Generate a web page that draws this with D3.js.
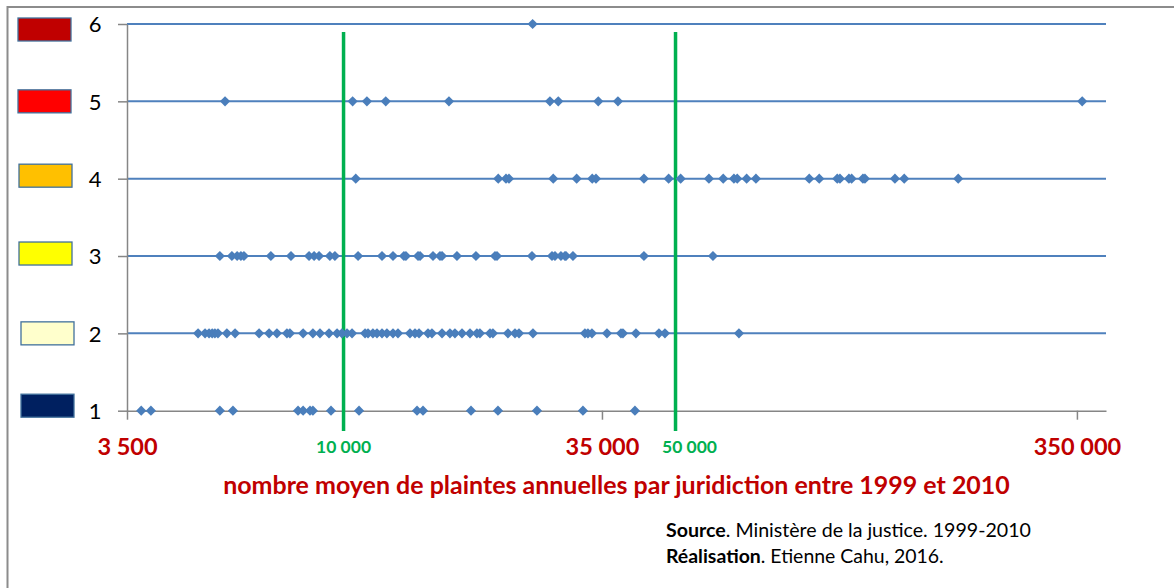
<!DOCTYPE html>
<html lang="fr">
<head>
<meta charset="utf-8">
<title>Plaintes annuelles par juridiction</title>
<script src="https://cdn.jsdelivr.net/npm/d3@7/dist/d3.min.js"></script>
<style>
  html, body { margin: 0; padding: 0; background: #fff; }
  svg { display: block; font-family: Lato, "Open Sans", sans-serif; }
</style>
</head>
<body>
<svg id="chart" width="1174" height="588"></svg>
<script>
// Classes (1 to 6) and their legend colours
const levels = [1, 2, 3, 4, 5, 6];
const levelColors = ["#002060", "#FFFFCC", "#FFFF00", "#FFC000", "#FF0000", "#C00000"];

// Mean number of complaints per year for each jurisdiction, grouped by class
const complaintsLevel1 = [3750, 3930, 5490, 5850, 8020, 8220, 8500, 8620, 9410, 10780,
  14280, 14700, 18550, 21140, 25540, 31920, 41070];
const complaintsLevel2 = [4940, 5110, 5210, 5290, 5360, 5440, 5680, 5910, 6640, 6970,
  7240, 7600, 7710, 8220, 8620, 8920, 9320, 9690, 9920, 10170, 10420, 11100, 11260,
  11530, 11760, 12050, 12340, 12710, 13020, 13800, 14140, 14420, 15060, 15350, 16120,
  16750, 17160, 17760, 18460, 19090, 19370, 20340, 20630, 22190, 22960, 23410, 25050,
  32230, 32700, 33340, 35860, 38380, 38750, 41270, 46140, 47500, 68000];
const complaintsLevel3 = [5490, 5820, 5970, 6080, 6170, 7030, 7750, 8460, 8670, 8880,
  9360, 9590, 10730, 12050, 12710, 13400, 13530, 14350, 14490, 15430, 15960, 16120,
  17330, 19000, 20840, 21040, 24930, 27470, 27870, 28690, 29250, 29400, 30410, 42900,
  59950];
const complaintsLevel4 = [10610, 21170, 21980, 22300, 27640, 30960, 33390, 34000, 42900,
  48360, 51260, 58790, 63010, 66370, 67440, 70580, 73840, 95610, 100360, 109510, 110950,
  115900, 117420, 124040, 125240, 144850, 151530, 196870];
const complaintsLevel5 = [5630, 10450, 11200, 12270, 16670, 27200, 28320, 34380, 37820,
  359100];
const complaintsLevel6 = [25010];

// Axis ticks and thresholds
const xTickValues = [3500, 35000, 350000];
const thresholds = [10000, 50000];
const xDomain = [3500, 403000];

const titleText = "nombre moyen de plaintes annuelles par juridiction entre 1999 et 2010";

// ---- layout ----
const svg = d3.select("#chart");
const fontFamily = 'Lato, "Open Sans", sans-serif';
const plot = { left: 127, right: 1106, top: 24, bottom: 410.7 };
const axisGray = "#868686";
const lineBlue = "#4F81BD";
const red = "#C00000";
const green = "#00B050";

const x = d3.scaleLog().domain(xDomain).range([plot.left, plot.right]);
const y = d3.scaleLinear().domain([1, 6]).range([plot.bottom, plot.top]);

const spaced = d3.formatLocale({ decimal: ",", thousands: "\u00a0", grouping: [3], currency: ["", " €"] }).format(",d");

// outer frame (top and left edges)
svg.append("path")
  .attr("d", "M7.5,588 V7 H1174")
  .attr("fill", "none")
  .attr("stroke", "#8C8C8C")
  .attr("stroke-width", 2);

// horizontal class lines
svg.append("g")
  .selectAll("line")
  .data(levels.filter(d => d > 1))
  .join("line")
  .attr("x1", plot.left).attr("x2", plot.right)
  .attr("y1", d => y(d)).attr("y2", d => y(d))
  .attr("stroke", lineBlue)
  .attr("stroke-width", 2);

// y axis
const yAxis = svg.append("g")
  .attr("transform", `translate(${plot.left},0)`)
  .call(d3.axisLeft(y).tickValues(levels).tickSize(9).tickSizeOuter(0).tickPadding(17).tickFormat(d3.format("d")))
  .attr("font-family", fontFamily);
yAxis.select(".domain").attr("stroke", axisGray).attr("stroke-width", 1.5);
yAxis.selectAll(".tick line").attr("stroke", axisGray).attr("stroke-width", 1.5);
yAxis.selectAll(".tick text")
  .attr("fill", "#000")
  .attr("font-size", 22)
  .attr("text-anchor", "middle")
  .attr("x", -32)
  .attr("dy", "0.36em");

// x axis (log scale)
const xAxis = svg.append("g")
  .attr("transform", `translate(0,${y(1)})`)
  .call(d3.axisBottom(x).tickValues(xTickValues).tickSize(9).tickSizeOuter(0).tickFormat(spaced))
  .attr("font-family", fontFamily);
xAxis.select(".domain").attr("stroke", axisGray).attr("stroke-width", 1.5);
xAxis.selectAll(".tick line").attr("stroke", axisGray).attr("stroke-width", 1.5);
xAxis.selectAll(".tick text")
  .attr("fill", red)
  .attr("font-size", 23.5)
  .attr("font-weight", "bold")
  .attr("y", 44)
  .attr("dy", 0);

// legend swatches, one per class
const legendNudge = [-5, 0, -2.5, -3, 0, 5.5];
const legendLeft = [21, 21, 19, 19, 18, 18];
svg.append("g")
  .selectAll("rect")
  .data(levels)
  .join("rect")
  .attr("x", (d, i) => legendLeft[i])
  .attr("y", (d, i) => y(d) - 11.5 + legendNudge[i])
  .attr("width", 53)
  .attr("height", 23)
  .attr("fill", (d, i) => levelColors[i])
  .attr("stroke", "#41719C")
  .attr("stroke-width", 1.3);

// threshold lines
svg.append("g")
  .selectAll("line")
  .data(thresholds)
  .join("line")
  .attr("x1", d => x(d)).attr("x2", d => x(d))
  .attr("y1", 32).attr("y2", 431)
  .attr("stroke", green)
  .attr("stroke-width", 3.5);

const thresholdLabelShift = [0, 14];
svg.append("g")
  .selectAll("text")
  .data(thresholds)
  .join("text")
  .attr("x", (d, i) => x(d) + thresholdLabelShift[i])
  .attr("y", 453)
  .attr("text-anchor", "middle")
  .attr("font-size", 17.5)
  .attr("font-weight", "bold")
  .attr("fill", green)
  .text(d => spaced(d));

// markers
const series = [complaintsLevel1, complaintsLevel2, complaintsLevel3,
  complaintsLevel4, complaintsLevel5, complaintsLevel6];
const points = series.flatMap((vals, i) => vals.map(v => ({ level: levels[i], value: v })));
const diamond = d3.symbol().type(d3.symbolSquare).size(52);
svg.append("g")
  .selectAll("path")
  .data(points)
  .join("path")
  .attr("d", diamond)
  .attr("transform", d => `translate(${x(d.value)},${y(d.level)}) rotate(45)`)
  .attr("fill", "#4A7EBB");

// fit a text element to a target width by adjusting its font size
function fitWidth(sel, width) {
  const node = sel.node();
  const size = parseFloat(sel.attr("font-size"));
  const w = node.getComputedTextLength();
  if (w > 0) sel.attr("font-size", (size * width / w).toFixed(2));
  return sel;
}

// axis title
const title = svg.append("text")
  .attr("x", 616.5)
  .attr("y", 494)
  .attr("text-anchor", "middle")
  .attr("font-size", 22)
  .attr("font-weight", "bold")
  .attr("fill", red)
  .text(titleText);
fitWidth(title, 787);

// credits
const credits = [
  { bold: "Source", rest: ". Ministère de la justice. 1999-2010", width: 365, y: 537 },
  { bold: "Réalisation", rest: ". Etienne Cahu, 2016.", width: 278, y: 563 }
];
credits.forEach(c => {
  const t = svg.append("text")
    .attr("x", 666)
    .attr("y", c.y)
    .attr("font-size", 17)
    .attr("fill", "#000");
  t.append("tspan").attr("font-weight", "bold").text(c.bold);
  t.append("tspan").text(c.rest);
  fitWidth(t, c.width);
});
</script>
</body>
</html>
